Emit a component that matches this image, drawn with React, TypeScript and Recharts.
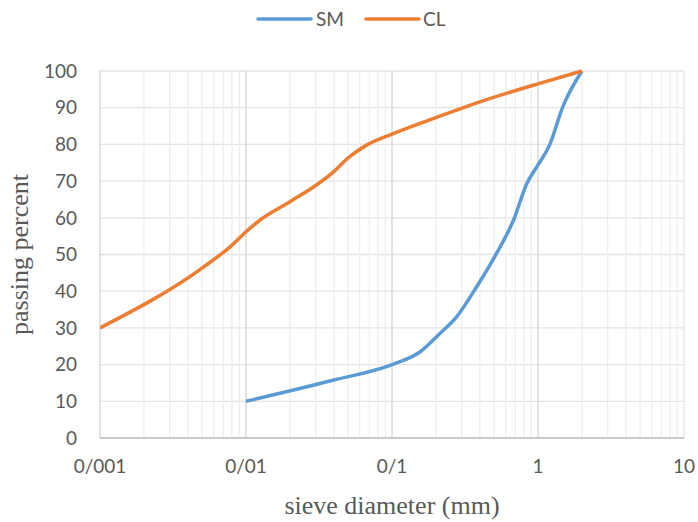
import React from 'react';
import { LineChart, Line, XAxis, YAxis, CartesianGrid, ReferenceLine, Label } from 'recharts';

interface Point {
  x: number;
  y: number;
}

// SM sample: sieve size (mm) vs passing percent
const smSizes = [0.01, 0.04, 0.1, 0.156, 0.213, 0.277, 0.38, 0.52, 0.68, 0.84, 1, 1.2, 1.48, 2];
const smPassing = [10, 15.8, 20, 23.5, 28.5, 33, 41.2, 50.3, 59.4, 69.4, 74.4, 79.8, 90.3, 100];

// CL sample
const clSizes = [0.001, 0.005, 0.008, 0.01, 0.0125, 0.02, 0.03, 0.04, 0.05, 0.067, 0.1, 0.2, 0.4, 1, 2];
const clPassing = [30, 46.3, 52.5, 56.2, 59.4, 64.4, 68.8, 72.6, 76.3, 79.8, 82.8, 87.3, 91.6, 96.5, 100];

const xTicks = [0.001, 0.01, 0.1, 1, 10];
const yTicks = [0, 10, 20, 30, 40, 50, 60, 70, 80, 90, 100];
const minorSteps = [2, 3, 4, 5, 6, 7, 8, 9];

const smData: Point[] = smSizes.map((x, i) => ({ x, y: smPassing[i] }));
const clData: Point[] = clSizes.map((x, i) => ({ x, y: clPassing[i] }));

// minor log grid lines between the decades
const minorLines: number[] = xTicks.slice(0, -1).flatMap(d => minorSteps.map(m => +(d * m).toPrecision(3)));

const BLUE = '#5B9BD5';
const ORANGE = '#ED7D31';
const tickFont = 'Lato, "Open Sans", sans-serif';
const titleFont = '"Liberation Serif", "DejaVu Serif", serif';

// legend drawn on top, like the excel one
const ChartLegend = () => (
  <svg width={698} height={40} style={{ position: 'absolute', left: 0, top: 0 }}>
    <line x1={258} y1={19} x2={311} y2={19} stroke={BLUE} strokeWidth={3.5} strokeLinecap="round" />
    <text x={316} y={26} fontFamily={tickFont} fontSize={19} fill="#595959">SM</text>
    <line x1={366} y1={19} x2={419} y2={19} stroke={ORANGE} strokeWidth={3.5} strokeLinecap="round" />
    <text x={423} y={26} fontFamily={tickFont} fontSize={19} fill="#595959">CL</text>
  </svg>
);

const App: React.FC = () => {
  return (
    <div style={{ position: 'absolute', left: 0, top: 0, width: 698, height: 522, background: '#fff' }}>
      <LineChart width={698} height={522} margin={{ top: 71, right: 14, bottom: 0, left: 0 }}>
        <CartesianGrid vertical={false} stroke="#e4e4e4" strokeWidth={1.3} />
        {minorLines.map(v => (
          <ReferenceLine key={`m-${v}`} x={v} stroke="#eeeeee" strokeWidth={1.3} />
        ))}
        {xTicks.map(v => (
          <ReferenceLine key={`M-${v}`} x={v} stroke={v === 10 ? '#e4e4e4' : '#d4d4d4'} strokeWidth={1.3} />
        ))}
        <XAxis
          dataKey="x"
          type="number"
          scale="log"
          domain={[0.001, 10]}
          ticks={xTicks}
          allowDataOverflow
          height={84}
          tickSize={0}
          tickMargin={22}
          tickLine={false}
          stroke="#bfbfbf"
          strokeWidth={1.3}
          tick={{ fill: '#595959', fontSize: 19, fontFamily: tickFont }}
          tickFormatter={(v: number) => String(v).replace('.', '/')}
        >
          <Label
            value="sieve diameter (mm)"
            position="insideBottom"
            offset={8}
            style={{ fontFamily: titleFont, fontSize: 26, fill: '#595959' }}
          />
        </XAxis>
        <YAxis
          type="number"
          domain={[0, 100]}
          ticks={yTicks}
          width={100}
          tickSize={0}
          tickMargin={23}
          tickLine={false}
          axisLine={false}
          tick={{ fill: '#595959', fontSize: 19, fontFamily: tickFont }}
        >
          <Label
            value="passing percent"
            angle={-90}
            position="insideLeft"
            offset={0}
            dx={19}
            style={{ fontFamily: titleFont, fontSize: 26, fill: '#595959', textAnchor: 'middle' }}
          />
        </YAxis>
        <Line
          data={smData}
          dataKey="y"
          name="SM"
          type="monotone"
          stroke={BLUE}
          strokeWidth={3.5}
          dot={false}
          isAnimationActive={false}
        />
        <Line
          data={clData}
          dataKey="y"
          name="CL"
          type="monotone"
          stroke={ORANGE}
          strokeWidth={3.5}
          dot={false}
          isAnimationActive={false}
        />
      </LineChart>
      <ChartLegend />
    </div>
  );
};

export default App;
